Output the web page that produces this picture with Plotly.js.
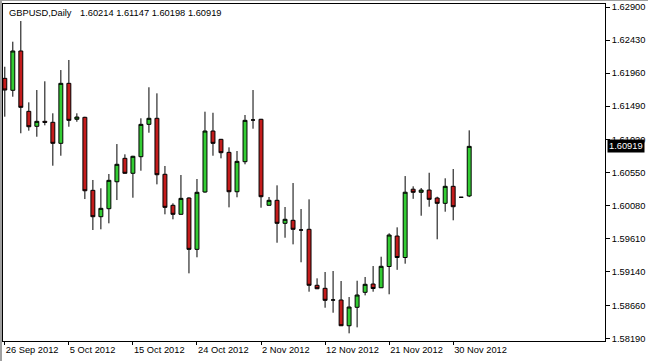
<!DOCTYPE html>
<html>
<head>
<meta charset="utf-8">
<script src="https://cdn.plot.ly/plotly-3.0.1.min.js"></script>
<style>
  html, body { margin: 0; padding: 0; background: #ffffff; }
  #chart { position: absolute; left: 0; top: 0; width: 648px; height: 361px; }
  #frame { position: absolute; left: 0; top: 0; width: 648px; height: 361px; box-sizing: border-box;
           border-left: 2px solid #a0a0a0; border-top: 1px solid #a0a0a0; pointer-events: none; }
</style>
</head>
<body>
<div id="chart"></div>
<div id="frame"></div>
<script>
// Daily bars (MT4 chart includes Sunday bars)
var dates = [
  '2012-09-26','2012-09-27','2012-09-28','2012-09-30','2012-10-01','2012-10-02','2012-10-03','2012-10-04',
  '2012-10-05','2012-10-07','2012-10-08','2012-10-09','2012-10-10','2012-10-11','2012-10-12','2012-10-14',
  '2012-10-15','2012-10-16','2012-10-17','2012-10-18','2012-10-19','2012-10-21','2012-10-22','2012-10-23',
  '2012-10-24','2012-10-25','2012-10-26','2012-10-28','2012-10-29','2012-10-30','2012-10-31','2012-11-01',
  '2012-11-02','2012-11-04','2012-11-05','2012-11-06','2012-11-07','2012-11-08','2012-11-09','2012-11-11',
  '2012-11-12','2012-11-13','2012-11-14','2012-11-15','2012-11-16','2012-11-18','2012-11-19','2012-11-20',
  '2012-11-21','2012-11-22','2012-11-23','2012-11-25','2012-11-26','2012-11-27','2012-11-28','2012-11-29',
  '2012-11-30','2012-12-02','2012-12-03'
];
var openP = [
  1.61886,1.61716,1.62275,1.61417,1.61204,1.61275,1.61261,1.60962,
  1.61815,1.61304,1.61332,1.60294,1.59919,1.60033,1.60416,1.60749,
  1.60536,1.60772,1.61232,1.61318,1.60522,1.60081,1.59953,1.60185,
  1.59455,1.60270,1.61137,1.61019,1.60834,1.60274,1.60701,1.61294,
  1.61304,1.60081,1.60152,1.59825,1.59868,1.59730,1.59740,1.58944,
  1.58901,1.58735,1.58735,1.58369,1.58631,1.58844,1.58962,1.58909,
  1.59211,1.59644,1.59339,1.60310,1.60266,1.60298,1.60185,1.60109,
  1.60351,1.60195,1.60214
];
var highP = [
  1.62051,1.62407,1.62701,1.61545,1.61720,1.61844,1.61389,1.62004,
  1.62147,1.61389,1.61340,1.60441,1.60323,1.60526,1.60952,1.60806,
  1.60785,1.61318,1.61759,1.61673,1.60640,1.60109,1.60512,1.60195,
  1.60455,1.61412,1.61397,1.61025,1.60905,1.60853,1.61365,1.61720,
  1.61310,1.60199,1.60365,1.60057,1.60398,1.60028,1.60166,1.59043,
  1.59133,1.59147,1.59005,1.58777,1.59009,1.59062,1.59218,1.59350,
  1.59683,1.59768,1.60497,1.60351,1.60327,1.60544,1.60203,1.60465,
  1.60597,1.60195,1.61147
];
var lowP = [
  1.61341,1.61625,1.61105,1.61142,1.61056,1.61218,1.60644,1.60786,
  1.61198,1.61269,1.60170,1.59730,1.59740,1.59825,1.60156,1.60530,
  1.60189,1.60573,1.61113,1.60379,1.59953,1.59882,1.59950,1.59114,
  1.59342,1.60260,1.60786,1.60749,1.60052,1.60195,1.60664,1.61170,
  1.60047,1.60078,1.59549,1.59620,1.59526,1.59271,1.58853,1.58890,
  1.58625,1.58554,1.58365,1.58261,1.58346,1.58801,1.58853,1.58905,
  1.58816,1.59164,1.59251,1.60173,1.59933,1.60061,1.59598,1.59990,
  1.59868,1.60195,1.60198
];
var closeP = [
  1.61720,1.62275,1.61474,1.61198,1.61275,1.61261,1.60962,1.61815,
  1.61289,1.61336,1.60288,1.59919,1.60038,1.60436,1.60664,1.60536,
  1.60778,1.61232,1.61318,1.60516,1.60052,1.59953,1.60180,1.59455,
  1.60266,1.61137,1.60962,1.60829,1.60274,1.60706,1.61289,1.61294,
  1.60203,1.60152,1.59825,1.59882,1.59740,1.59730,1.58944,1.58895,
  1.58730,1.58735,1.58369,1.58635,1.58806,1.58958,1.58898,1.59214,
  1.59659,1.59339,1.60267,1.60266,1.60298,1.60166,1.60109,1.60351,
  1.60061,1.60195,1.60919
];
var xTickVals = ['2012-09-26','2012-10-05','2012-10-15','2012-10-24','2012-11-02','2012-11-12','2012-11-21','2012-11-30'];
var xTickText = ['26 Sep 2012','5 Oct 2012','15 Oct 2012','24 Oct 2012','2 Nov 2012','12 Nov 2012','21 Nov 2012','30 Nov 2012'];
var yTickVals = [1.58190,1.58660,1.59140,1.59610,1.60080,1.60550,1.61020,1.61490,1.61960,1.62430,1.62900];
var yTickText = ['1.58190','1.58660','1.59140','1.59610','1.60080','1.60550','1.61020','1.61490','1.61960','1.62430','1.62900'];
var symbolText = 'GBPUSD,Daily';
var lastBar = '1.60214 1.61147 1.60198 1.60919';
var lastPrice = 1.60919;

var font = 'Liberation Sans, Arial, sans-serif';
var trace = {
  type: 'candlestick',
  x: dates, open: openP, high: highP, low: lowP, close: closeP,
  increasing: { fillcolor: '#33cc33', line: { color: '#000000', width: 1 } },
  decreasing: { fillcolor: '#c41c1c', line: { color: '#000000', width: 1 } },
  whiskerwidth: 0,
  hoverinfo: 'skip'
};
var layout = {
  width: 648, height: 361,
  margin: { l: 3, r: 43, t: 4, b: 20, pad: 0 },
  paper_bgcolor: '#ffffff', plot_bgcolor: '#ffffff',
  showlegend: false,
  font: { family: font, size: 9.3, color: '#000000' },
  xaxis: {
    type: 'category', range: [-0.225, 74.96], rangeslider: { visible: false },
    tickmode: 'array', tickvals: xTickVals, ticktext: xTickText,
    ticks: 'outside', ticklen: 3, tickcolor: '#000000', tickwidth: 1,
    ticklabelposition: 'outside right',
    showgrid: false, zeroline: false, showline: true, linecolor: '#000000', linewidth: 1, mirror: true,
    tickfont: { family: font, size: 9.3, color: '#000000' }, fixedrange: true
  },
  yaxis: {
    side: 'right', range: [1.58152, 1.62943],
    tickmode: 'array', tickvals: yTickVals, ticktext: yTickText,
    ticks: 'outside', ticklen: 4, tickcolor: '#000000', tickwidth: 1,
    showgrid: false, zeroline: false, showline: true, linecolor: '#000000', linewidth: 1, mirror: true,
    tickfont: { family: font, size: 9.3, color: '#000000' }, fixedrange: true
  },
  annotations: [
    { xref: 'paper', yref: 'paper', x: 0, y: 1, xanchor: 'left', yanchor: 'top', xshift: 4, yshift: -2,
      text: symbolText, showarrow: false, font: { family: font, size: 9.3, color: '#000000' } },
    { xref: 'paper', yref: 'paper', x: 0, y: 1, xanchor: 'left', yanchor: 'top', xshift: 75, yshift: -2,
      text: lastBar, showarrow: false, font: { family: font, size: 9.3, color: '#000000' } },
    { xref: 'paper', yref: 'y', x: 1, y: lastPrice, xanchor: 'left', yanchor: 'middle', xshift: 2,
      text: lastPrice.toFixed(5), showarrow: false, bgcolor: '#000000', borderpad: 1,
      font: { family: font, size: 9.3, color: '#ffffff' } }
  ]
};
Plotly.newPlot('chart', [trace], layout, { staticPlot: true, displayModeBar: false });
</script>
</body>
</html>
